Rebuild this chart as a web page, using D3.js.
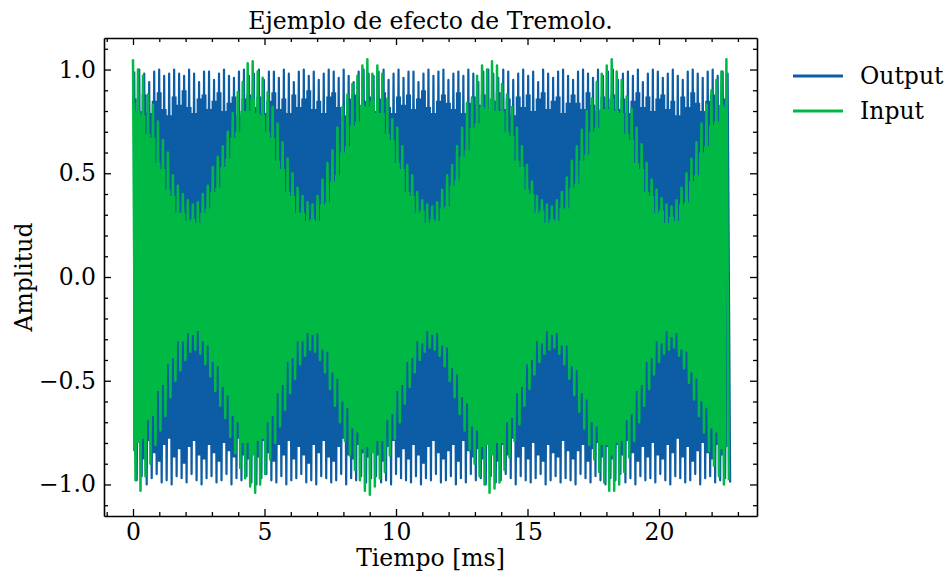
<!DOCTYPE html>
<html><head><meta charset="utf-8">
<script src="https://cdn.jsdelivr.net/npm/d3@7"></script>
<style>
body{margin:0;background:#fff}
svg{display:block}
text{font-family:"DejaVu Serif",serif;fill:#000}
</style>
</head><body>
<svg id="chart" width="948" height="574"></svg>
<script>
// ---- data ----
const title = "Ejemplo de efecto de Tremolo.";
const xLabel = "Tiempo [ms]";
const yLabel = "Amplitud";
const seriesNames = ["Output", "Input"];
const seriesColors = ["#0C5DA5", "#00B945"];
const xMajorTicks = [0, 5, 10, 15, 20];
const yMajorTicks = [-1.0, -0.5, 0.0, 0.5, 1.0];
const peakStep = 0.1896; // ms between successive oscillation peaks

// Input (green): upper peaks, lower peaks, solid-band half-height (x100)
const inputTop = [
105,100,97,88,83,75,66,60,49,44,40,37,35,36,40,44,53,58,63,70,79,89,94,103,
104,99,96,89,82,74,65,57,50,43,39,36,35,39,47,55,61,72,82,88,93,97,102,105,
98,102,98,86,76,72,63,54,49,41,37,35,34,36,42,49,54,63,72,84,86,97,102,100,
104,102,93,88,82,72,63,54,46,39,37,35,34,37,41,48,56,63,71,80,86,94,98,102,
105,99,95,87,81,72,64,55,47,42,38,35,34,37,43,50,57,65,74,83,90,95,99,105];
const inputBottom = [
-98,-103,-96,-90,-81,-74,-67,-58,-50,-45,-40,-36,-35,-37,-42,-48,-55,-62,-68,-77,-85,-92,-97,-101,
-104,-100,-95,-88,-80,-72,-64,-56,-49,-42,-38,-35,-36,-40,-46,-54,-62,-70,-79,-86,-93,-98,-103,-105,
-101,-97,-94,-86,-78,-70,-61,-53,-46,-40,-36,-34,-35,-38,-43,-50,-58,-66,-74,-83,-90,-96,-100,-104,
-102,-99,-93,-87,-79,-71,-62,-54,-47,-41,-37,-35,-34,-37,-42,-49,-57,-65,-73,-81,-88,-94,-99,-103,
-103,-100,-94,-87,-79,-70,-62,-54,-47,-41,-37,-35,-34,-38,-44,-51,-59,-67,-75,-84,-91,-96,-100,-98];
const inputBand = [
84,80,78,69,67,55,52,42,39,31,31,27,28,26,31,33,41,43,53,57,67,70,80,80,
86,79,78,70,67,56,52,41,39,31,31,27,28,27,35,36,46,49,60,63,73,75,83,82,
85,79,79,69,66,55,52,41,39,31,32,26,28,27,33,34,44,47,58,61,72,74,82,81,
86,80,80,70,68,56,53,42,40,31,32,26,28,27,33,33,43,45,56,59,70,72,81,81,
86,80,79,69,66,55,52,41,39,31,32,26,29,27,35,36,46,49,60,63,73,75,83,82];

// Output (blue): upper peaks, lower peaks, solid-band half-height (x100)
const outputTop = [
99,100,98,94,99,100,97,98,100,98,97,100,98,94,99,99,95,98,100,97,96,99,100,97,
98,100,95,99,99,96,100,98,94,99,100,97,99,95,98,100,99,96,100,97,94,99,100,98,
97,99,100,95,98,100,96,99,99,94,98,100,97,99,100,95,98,99,97,100,98,94,99,100,
98,96,100,99,95,98,100,97,99,94,100,98,96,99,100,97,95,99,100,98,96,100,97,99,
100,95,98,99,97,100,94,98,100,99,96,98,100,97,95,99,100,98,96,99,100,97,99,98];
const outputBottom = [
-98,-96,-100,-97,-95,-99,-98,-100,-96,-97,-99,-95,-98,-100,-97,-96,-99,-98,-95,-100,-97,-98,-96,-99,
-100,-97,-95,-98,-99,-96,-100,-98,-97,-95,-99,-98,-100,-96,-97,-99,-98,-95,-100,-97,-98,-96,-99,-97,
-96,-99,-98,-100,-95,-97,-98,-99,-96,-100,-97,-98,-95,-99,-98,-96,-100,-97,-99,-95,-98,-97,-100,-96,
-99,-98,-95,-97,-100,-96,-98,-99,-97,-95,-100,-98,-96,-99,-97,-98,-100,-95,-97,-99,-96,-98,-100,-97,
-98,-95,-99,-97,-100,-96,-98,-97,-99,-95,-98,-100,-96,-97,-99,-98,-95,-100,-97,-96,-99,-98,-97,-99];
const outputBand = [
86,80,88,79,85,89,81,78,87,83,90,82,79,86,88,81,85,89,80,84,87,78,86,88,
82,87,79,85,89,81,86,79,88,82,86,90,81,85,79,87,89,82,78,86,88,81,85,87,
80,86,89,82,79,87,83,88,81,86,90,82,79,85,88,84,81,89,79,84,87,83,88,80,
85,89,81,86,78,87,82,88,80,86,89,81,85,87,79,84,88,84,81,89,83,80,87,82,
88,81,86,79,85,89,82,87,80,86,88,81,85,78,87,82,89,84,80,85,88,81,86,82];

// ---- layout ----
const L = 104, R = 757, T = 38, B = 516;
const FS = "23.5px";
const svg = d3.select("#chart");
const x = d3.scaleLinear().domain([-1.1027, 23.726]).range([L, R]);
const y = d3.scaleLinear().domain([-1.152, 1.152]).range([B, T]);

svg.append("defs").append("clipPath").attr("id", "clip")
  .append("rect").attr("x", L).attr("y", T).attr("width", R - L).attr("height", B - T);

const plot = svg.append("g").attr("clip-path", "url(#clip)");

function drawSeries(top, bottom, band, color, phase, width) {
  const t = i => i * peakStep + phase;
  const area = d3.area()
    .x((d, i) => x(t(i)))
    .y0(d => y(-d / 100))
    .y1(d => y(d / 100))
    .curve(d3.curveStep);
  plot.append("path").datum(band).attr("d", area).attr("fill", color);
  const pts = [];
  top.forEach((v, i) => {
    pts.push([t(i), v / 100]);
    pts.push([t(i) + peakStep / 2, bottom[i] / 100]);
  });
  plot.append("path").datum(pts)
    .attr("d", d3.line().x(d => x(d[0])).y(d => y(d[1])))
    .attr("fill", "none").attr("stroke", color)
    .attr("stroke-width", width).attr("stroke-linejoin", "round");
}
drawSeries(outputTop, outputBottom, outputBand, seriesColors[0], peakStep * 0.25, 2.2);
drawSeries(inputTop, inputBottom, inputBand, seriesColors[1], 0, 2.5);

// ---- axes ----
const fmtY = d => (d < 0 ? "\u2212" : "") + Math.abs(d).toFixed(1);
const xMinor = d3.range(-1, 24, 1).filter(v => !xMajorTicks.includes(v));
const yMinor = d3.range(-11, 12, 1).map(v => v / 10).filter(v => !yMajorTicks.some(m => Math.abs(m - v) < 1e-9));

function styleAxis(g, labels) {
  g.select(".domain").attr("stroke", "#000").attr("stroke-width", 1.6);
  g.selectAll(".tick line").attr("stroke", "#000").attr("stroke-width", 1.3);
  g.selectAll(".tick text").style("font-size", FS).style("font-family", "'DejaVu Serif', serif");
  if (!labels) g.selectAll(".tick text").remove();
}

// bottom
let g = svg.append("g").attr("transform", `translate(0,${B})`)
  .call(d3.axisBottom(x).tickValues(xMajorTicks).tickSizeInner(-7).tickSizeOuter(0).tickPadding(7.5).tickFormat(d3.format("d")));
styleAxis(g, true);
g = svg.append("g").attr("transform", `translate(0,${B})`)
  .call(d3.axisBottom(x).tickValues(xMinor).tickSizeInner(-4).tickSizeOuter(0).tickFormat(""));
styleAxis(g, false); g.select(".domain").remove();
// top
g = svg.append("g").attr("transform", `translate(0,${T})`)
  .call(d3.axisTop(x).tickValues(xMajorTicks).tickSizeInner(-7).tickSizeOuter(0).tickFormat(""));
styleAxis(g, false);
g = svg.append("g").attr("transform", `translate(0,${T})`)
  .call(d3.axisTop(x).tickValues(xMinor).tickSizeInner(-4).tickSizeOuter(0).tickFormat(""));
styleAxis(g, false); g.select(".domain").remove();
// left
g = svg.append("g").attr("transform", `translate(${L},0)`)
  .call(d3.axisLeft(y).tickValues(yMajorTicks).tickSizeInner(-7).tickSizeOuter(0).tickPadding(8).tickFormat(fmtY));
styleAxis(g, true);
g = svg.append("g").attr("transform", `translate(${L},0)`)
  .call(d3.axisLeft(y).tickValues(yMinor).tickSizeInner(-4).tickSizeOuter(0).tickFormat(""));
styleAxis(g, false); g.select(".domain").remove();
// right
g = svg.append("g").attr("transform", `translate(${R},0)`)
  .call(d3.axisRight(y).tickValues(yMajorTicks).tickSizeInner(-7).tickSizeOuter(0).tickFormat(""));
styleAxis(g, false);
g = svg.append("g").attr("transform", `translate(${R},0)`)
  .call(d3.axisRight(y).tickValues(yMinor).tickSizeInner(-4).tickSizeOuter(0).tickFormat(""));
styleAxis(g, false); g.select(".domain").remove();

// ---- labels ----
svg.append("text").attr("x", (L + R) / 2).attr("y", 29).attr("text-anchor", "middle")
  .style("font-size", FS).text(title);
svg.append("text").attr("x", (L + R) / 2).attr("y", 566).attr("text-anchor", "middle")
  .style("font-size", FS).text(xLabel);
svg.append("text").attr("transform", `translate(32,${(T + B) / 2}) rotate(-90)`).attr("text-anchor", "middle")
  .style("font-size", FS).text(yLabel);

// ---- legend ----
const leg = svg.append("g");
seriesNames.forEach((name, i) => {
  const yy = 76 + i * 35;
  leg.append("line").attr("x1", 793).attr("x2", 843).attr("y1", yy).attr("y2", yy)
    .attr("stroke", seriesColors[i]).attr("stroke-width", 3);
  leg.append("text").attr("x", 860).attr("y", yy + 8).style("font-size", FS).text(name);
});
</script>
</body></html>
